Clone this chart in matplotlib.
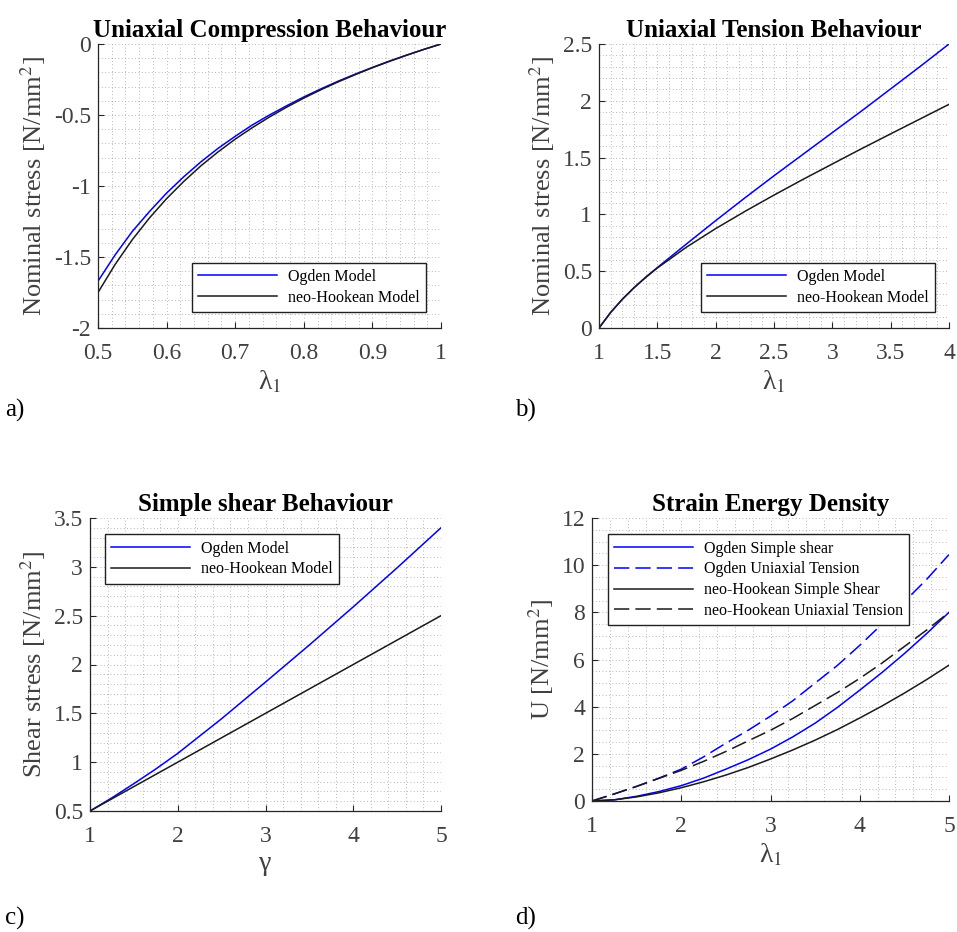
import matplotlib
matplotlib.use("Agg")
import matplotlib.pyplot as plt
from matplotlib.ticker import MultipleLocator, FuncFormatter

plt.rcParams['font.family'] = ['Liberation Serif', 'DejaVu Serif']
plt.rcParams['mathtext.fontset'] = 'stix'

# ---------------- data ----------------
# a) uniaxial compression
comp_lam = [0.5, 0.525, 0.55, 0.575, 0.6, 0.625, 0.65, 0.675, 0.7, 0.725, 0.75,
            0.775, 0.8, 0.825, 0.85, 0.875, 0.9, 0.925, 0.95, 0.975, 1.0]
comp_ogden = [-1.67, -1.485, -1.32, -1.18, -1.05, -0.935, -0.83, -0.735, -0.65, -0.57, -0.50,
              -0.435, -0.373, -0.316, -0.262, -0.212, -0.165, -0.12, -0.078, -0.038, 0.0]
comp_neo = [-1.75, -1.552, -1.378, -1.225, -1.089, -0.968, -0.858, -0.760, -0.670, -0.589, -0.514,
            -0.445, -0.381, -0.322, -0.267, -0.216, -0.167, -0.122, -0.079, -0.038, 0.0]

# b) uniaxial tension
ten_lam = [1.0, 1.1, 1.2, 1.3, 1.4, 1.5, 1.75, 2.0, 2.25, 2.5, 2.75, 3.0, 3.25, 3.5, 3.75, 4.0]
ten_ogden = [0.0, 0.137, 0.253, 0.355, 0.447, 0.532, 0.74, 0.945, 1.145, 1.34, 1.53, 1.72,
             1.91, 2.105, 2.30, 2.50]
ten_neo = [0.0, 0.137, 0.253, 0.354, 0.445, 0.528, 0.712, 0.875, 1.026, 1.17, 1.309, 1.444,
           1.578, 1.709, 1.839, 1.969]

# c) simple shear
sh_gamma = [1.0, 1.25, 1.5, 1.75, 2.0, 2.5, 3.0, 3.5, 4.0, 4.5, 5.0]
sh_ogden = [0.5, 0.635, 0.78, 0.93, 1.09, 1.445, 1.82, 2.20, 2.59, 2.99, 3.40]
sh_neo = [0.5, 0.625, 0.75, 0.875, 1.0, 1.25, 1.5, 1.75, 2.0, 2.25, 2.5]

# d) strain energy density
sed_lam = [1.0, 1.25, 1.5, 1.75, 2.0, 2.25, 2.5, 2.75, 3.0, 3.25, 3.5, 3.75, 4.0, 4.25, 4.5, 4.75, 5.0]
sed_ogden_shear = [0.0, 0.05, 0.2, 0.4, 0.65, 0.97, 1.35, 1.75, 2.2, 2.72, 3.3, 3.97, 4.7, 5.45, 6.25, 7.1, 8.0]
sed_ogden_ten = [0.0, 0.3, 0.62, 0.97, 1.35, 1.87, 2.45, 3.0, 3.6, 4.25, 5.0, 5.75, 6.6, 7.5, 8.45, 9.4, 10.45]
sed_neo_shear = [0.0, 0.05, 0.174, 0.347, 0.5625, 0.815, 1.10, 1.42, 1.78, 2.165, 2.58, 3.03, 3.52, 4.03, 4.575, 5.15, 5.76]
sed_neo_ten = [0.0, 0.3, 0.62, 0.96, 1.3, 1.68, 2.1, 2.55, 3.0, 3.5, 4.05, 4.6, 5.2, 5.85, 6.55, 7.25, 8.0]

BLUE = '#0000ff'
BLACK = '#1a1a1a'
AXC = '#262626'
TXT = '#404040'

W, H = 957, 932
fig = plt.figure(figsize=(W / 100, H / 100), dpi=100)


def mkax(x0, x1, y0, y1):
    return fig.add_axes([x0 / W, 1 - y1 / H, (x1 - x0) / W, (y1 - y0) / H])


def fmt(v, pos=None):
    if abs(v) < 1e-12:
        v = 0.0
    return '%g' % v


def style(ax, xlim, ylim, xmaj, xmin, ymaj, ymin, title, xlabel, ylabel):
    ax.set_xlim(*xlim)
    ax.set_ylim(*ylim)
    ax.xaxis.set_major_locator(MultipleLocator(xmaj))
    ax.xaxis.set_minor_locator(MultipleLocator(xmin))
    ax.yaxis.set_major_locator(MultipleLocator(ymaj))
    ax.yaxis.set_minor_locator(MultipleLocator(ymin))
    ax.xaxis.set_major_formatter(FuncFormatter(fmt))
    ax.yaxis.set_major_formatter(FuncFormatter(fmt))
    ax.grid(True, which='both', linestyle=(0, (1, 3)), color='#a0a0a0', linewidth=0.6)
    ax.set_axisbelow(True)
    for s in ['top', 'right']:
        ax.spines[s].set_visible(False)
    for s in ['left', 'bottom']:
        ax.spines[s].set_color(AXC)
        ax.spines[s].set_linewidth(0.9)
    ax.tick_params(which='major', direction='in', length=4, width=0.8, color=AXC,
                   labelsize=17, labelcolor=TXT)
    ax.tick_params(axis='x', which='major', pad=11)
    ax.tick_params(axis='y', which='major', pad=5)
    ax.tick_params(which='minor', length=0)
    ax.set_title(title, fontsize=18, fontweight='bold', pad=5)
    ax.set_xlabel(xlabel, fontsize=20, color=TXT, labelpad=3)
    ax.set_ylabel(ylabel, fontsize=19, color=TXT, labelpad=4)


leg_kw = dict(fontsize=11.5, frameon=True, fancybox=False, edgecolor='#202020',
              handlelength=4.9, borderaxespad=0, borderpad=0.4, labelspacing=0.3,
              handletextpad=0.7, framealpha=1)

# ---- a ----
ax = mkax(98, 441, 44, 328)
ax.plot(comp_lam, comp_ogden, color=BLUE, lw=1.1, label='Ogden Model')
ax.plot(comp_lam, comp_neo, color=BLACK, lw=1.1, label='neo-Hookean Model')
style(ax, (0.5, 1.0), (-2, 0), 0.1, 0.02, 0.5, 0.1,
      'Uniaxial Compression Behaviour', 'λ$_{1}$', 'Nominal stress [N/mm$^{2}$]')
lg = ax.legend(loc='lower right', bbox_to_anchor=(0.956, 0.056), **leg_kw)
lg.get_frame().set_linewidth(1.0)

# ---- b ----
ax = mkax(599, 949, 44, 328)
ax.plot(ten_lam, ten_ogden, color=BLUE, lw=1.1, label='Ogden Model')
ax.plot(ten_lam, ten_neo, color=BLACK, lw=1.1, label='neo-Hookean Model')
style(ax, (1, 4), (0, 2.5), 0.5, 0.1, 0.5, 0.1,
      'Uniaxial Tension Behaviour', 'λ$_{1}$', 'Nominal stress [N/mm$^{2}$]')
lg = ax.legend(loc='lower right', bbox_to_anchor=(0.96, 0.056), **leg_kw)
lg.get_frame().set_linewidth(1.0)

# ---- c ----
ax = mkax(90, 441, 518, 811)
ax.plot(sh_gamma, sh_ogden, color=BLUE, lw=1.1, label='Ogden Model')
ax.plot(sh_gamma, sh_neo, color=BLACK, lw=1.1, label='neo-Hookean Model')
style(ax, (1, 5), (0.5, 3.5), 1, 0.2, 0.5, 0.1,
      'Simple shear Behaviour', 'γ', 'Shear stress [N/mm$^{2}$]')
lg = ax.legend(loc='upper left', bbox_to_anchor=(0.043, 0.945), **leg_kw)
lg.get_frame().set_linewidth(1.0)

# ---- d ----
ax = mkax(592, 949, 518, 801)
ax.plot(sed_lam, sed_ogden_shear, color=BLUE, lw=1.1, label='Ogden Simple shear')
ax.plot(sed_lam, sed_ogden_ten, color=BLUE, lw=1.1, dashes=(10, 4), label='Ogden Uniaxial Tension')
ax.plot(sed_lam, sed_neo_shear, color=BLACK, lw=1.1, label='neo-Hookean Simple Shear')
ax.plot(sed_lam, sed_neo_ten, color=BLACK, lw=1.1, dashes=(10, 4), label='neo-Hookean Uniaxial Tension')
style(ax, (1, 5), (0, 12), 1, 0.2, 2, 0.5,
      'Strain Energy Density', 'λ$_{1}$', 'U [N/mm$^{2}$]')
lg = ax.legend(loc='upper left', bbox_to_anchor=(0.045, 0.943), **leg_kw)
lg.get_frame().set_linewidth(1.0)

# panel labels
for txt, x, y in [('a)', 5, 410), ('b)', 515, 410), ('c)', 5, 918), ('d)', 515, 918)]:
    fig.text(x / W, 1 - y / H, txt, fontsize=18, color='black', va='center', ha='left')

fig.savefig('out.png', dpi=100, facecolor='white')
